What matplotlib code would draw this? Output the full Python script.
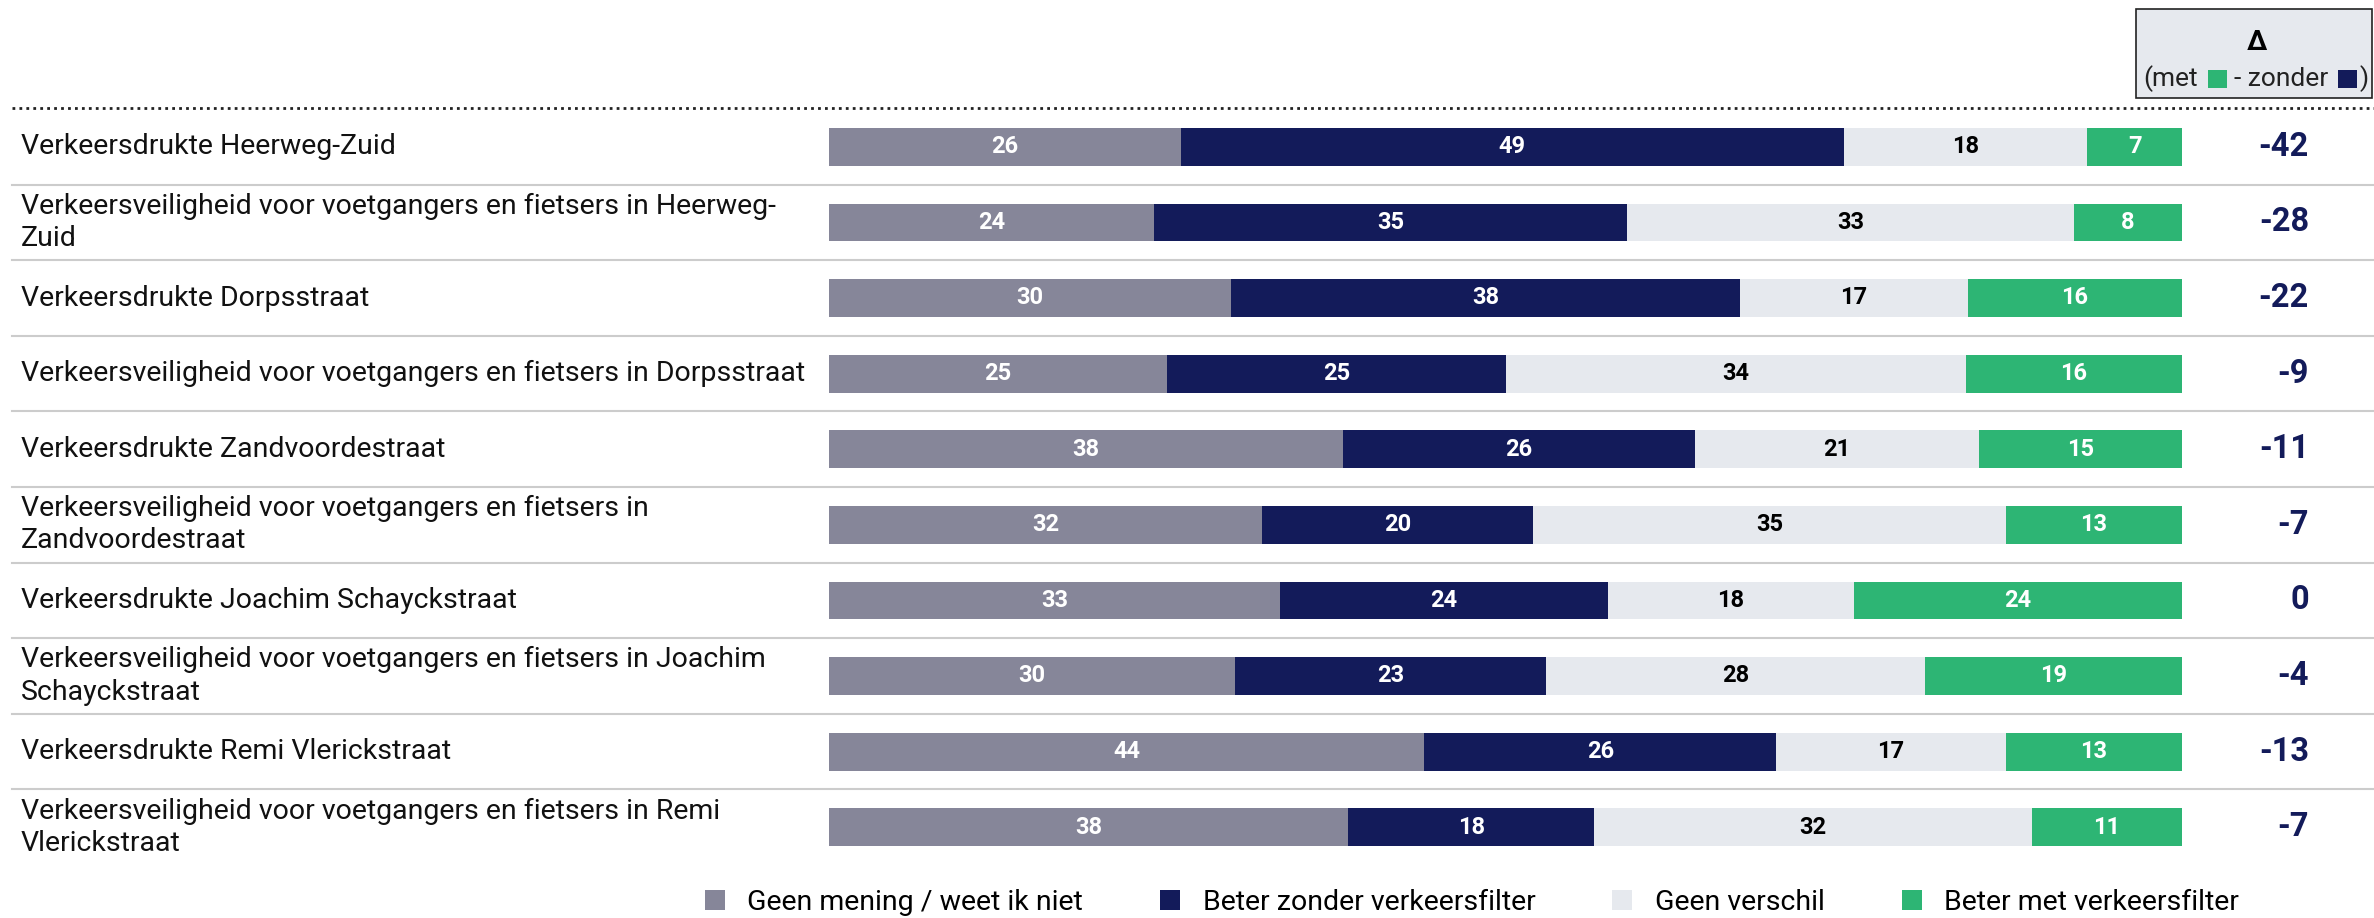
import matplotlib
matplotlib.use("Agg")
import matplotlib.pyplot as plt
import matplotlib.transforms as mtransforms
from matplotlib.patches import Rectangle
from matplotlib import font_manager
import numpy as np

# === DATA ===
labels = [
    "Verkeersdrukte Heerweg-Zuid",
    "Verkeersveiligheid voor voetgangers en fietsers in Heerweg-\nZuid",
    "Verkeersdrukte Dorpsstraat",
    "Verkeersveiligheid voor voetgangers en fietsers in Dorpsstraat",
    "Verkeersdrukte Zandvoordestraat",
    "Verkeersveiligheid voor voetgangers en fietsers in\nZandvoordestraat",
    "Verkeersdrukte Joachim Schayckstraat",
    "Verkeersveiligheid voor voetgangers en fietsers in Joachim\nSchayckstraat",
    "Verkeersdrukte Remi Vlerickstraat",
    "Verkeersveiligheid voor voetgangers en fietsers in Remi\nVlerickstraat",
]
geen_mening = [26, 24, 30, 25, 38, 32, 33, 30, 44, 38]
beter_zonder = [49, 35, 38, 25, 26, 20, 24, 23, 26, 18]
geen_verschil = [18, 33, 17, 34, 21, 35, 18, 28, 17, 32]
beter_met = [7, 8, 16, 16, 15, 13, 24, 19, 13, 11]
delta = [-42, -28, -22, -9, -11, -7, 0, -4, -13, -7]

series_names = ["Geen mening / weet ik niet", "Beter zonder verkeersfilter",
                "Geen verschil", "Beter met verkeersfilter"]

# === STYLE ===
C_GRAY = "#868699"
C_NAVY = "#131B5A"
C_LIGHT = "#E6E9EE"
C_GREEN = "#2DB574"
COLORS = [C_GRAY, C_NAVY, C_LIGHT, C_GREEN]
TEXT_COLORS = ["white", "white", "black", "white"]

names = {f.name for f in font_manager.fontManager.ttflist}
FONT = next((f for f in ["Roboto", "DejaVu Sans"] if f in names), "DejaVu Sans")
plt.rcParams["font.family"] = [FONT, "DejaVu Sans"]

LABEL_SIZE = 20.5
NUM_SIZE = 17
DELTA_SIZE = 23.5

W, H = 2374, 918
fig = plt.figure(figsize=(W / 100, H / 100), dpi=100)


def fx(px):
    return px / W


def fy(py):
    # pixel from top -> figure fraction
    return 1 - py / H


# bar axes: x 829..2182 px, rows from 109..865 px
ax = fig.add_axes([fx(829), fy(865), fx(2182 - 829), fy(109) - fy(865)])
n = len(labels)
y = np.arange(n)

data = np.array([geen_mening, beter_zonder, geen_verschil, beter_met], float)
totals = data.sum(axis=0)
shares = data / totals * 100

left = np.zeros(n)
handles = []
for k in range(4):
    bars = ax.barh(y, shares[k], left=left, height=0.5, color=COLORS[k],
                   edgecolor="none", label=series_names[k])
    handles.append(bars)
    for i in range(n):
        ax.text(left[i] + shares[k][i] / 2, y[i], f"{int(data[k][i])}",
                ha="center", va="center", fontsize=NUM_SIZE, fontweight="bold",
                color=TEXT_COLORS[k])
    left += shares[k]

ax.set_xlim(0, 100)
ax.set_ylim(n - 0.5, -0.5)
ax.axis("off")

# row labels, separators and delta
trans = mtransforms.blended_transform_factory(fig.transFigure, ax.transData)
for i in range(n):
    ax.text(fx(21), y[i], labels[i], transform=trans, ha="left",
            va="center", fontsize=LABEL_SIZE, linespacing=1.25, color="#111111")
    ax.text(fx(2309), y[i], f"{delta[i]}", transform=trans, ha="right",
            va="center", fontsize=DELTA_SIZE, fontweight="bold", color=C_NAVY)
    if i < n - 1:
        ax.plot([fx(12), 1], [i + 0.5, i + 0.5], transform=trans,
                color="#CCCCCC", linewidth=1.5, clip_on=False)

# dotted top line
fig.add_artist(plt.Line2D([fx(12), 1], [fy(108), fy(108)],
                          color="#222222", linewidth=2, linestyle=(0, (1, 1.5))))

# header box
fig.add_artist(Rectangle((fx(2136), fy(98)), fx(2372 - 2136), fy(9) - fy(98),
                         facecolor=C_LIGHT, edgecolor="#222222", linewidth=1.2))
fig.text(fx(2257), fy(43), "Δ", ha="center", va="center", fontsize=20,
         fontweight="bold", color="black")
fig.text(fx(2143), fy(79), "(met", ha="left", va="center", fontsize=19,
         color="#222222")
fig.add_artist(Rectangle((fx(2208), fy(88)), fx(19), fy(70) - fy(88),
                         facecolor=C_GREEN, edgecolor="none"))
fig.text(fx(2234), fy(79), "- zonder", ha="left", va="center",
         fontsize=19, color="#222222")
fig.add_artist(Rectangle((fx(2338), fy(88)), fx(19), fy(70) - fy(88),
                         facecolor=C_NAVY, edgecolor="none"))
fig.text(fx(2369), fy(79), ")", ha="right", va="center", fontsize=19,
         color="#222222")

# legend
leg = fig.legend(handles=handles, labels=series_names, loc="center",
                 bbox_to_anchor=(fx(1472), fy(902)), ncol=4, frameon=False,
                 fontsize=LABEL_SIZE, handlelength=0.7, handleheight=0.7,
                 handletextpad=0.8, columnspacing=2.7)

fig.savefig("out.png", dpi=100)
